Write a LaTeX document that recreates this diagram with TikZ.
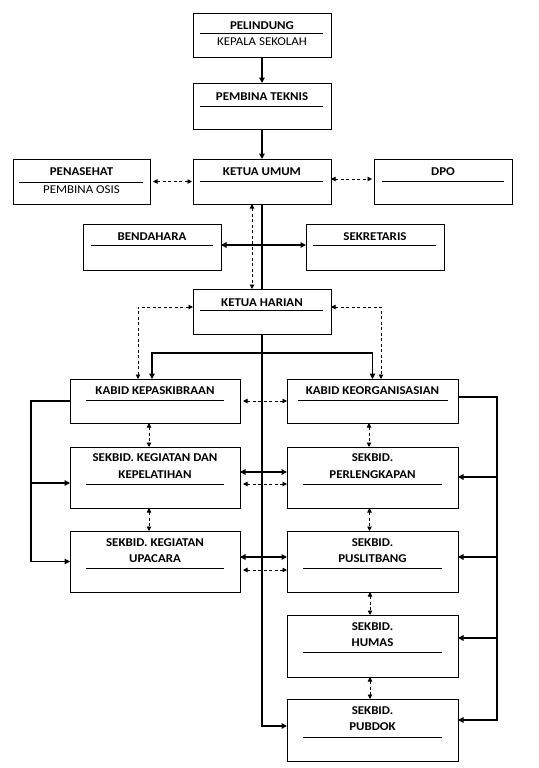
\documentclass[tikz,border=0pt]{standalone}
\usepackage{fontspec}
\setmainfont{Carlito}[FakeStretch=1.08]
\usetikzlibrary{arrows.meta}
\newcommand\mybox[5]{\node[box, minimum width={(#4-#2)*1bp}, minimum height={(#5-#3)*1bp}] (#1) at ({(#2+#4)/2},{(#3+#5)/2}) {};}
\begin{document}
\begin{tikzpicture}[x=1bp,y=-1bp,
 box/.style={draw, line width=0.9bp, inner sep=0pt, outer sep=0pt, fill=white},
 ttl/.style={font=\bfseries\fontsize{12}{14}\selectfont, inner sep=0pt},
 sub/.style={font=\fontsize{12}{14}\selectfont, inner sep=0pt},
 uline/.style={line width=0.8bp},
 sline/.style={line width=1.7bp},
 sarr/.style={line width=1.7bp, -{Triangle[length=5.5bp,width=5.5bp]}},
 sdarr/.style={line width=1.7bp, {Triangle[length=5.5bp,width=5.5bp]}-{Triangle[length=5.5bp,width=5.5bp]}},
 darr/.style={line width=0.9bp, dash pattern=on 3bp off 2.5bp, {Triangle[length=4.5bp,width=4.5bp]}-{Triangle[length=4.5bp,width=4.5bp]}},
]
\useasboundingbox (0,0) rectangle (539,768);
% trunk and lines behind boxes
\draw[sline] (262,204) -- (262,289);
\coordinate (J) at (262,353);
\coordinate (L1) at (31,401);
\coordinate (R1) at (497,397);

% boxes
\mybox{pel}{193}{13}{331}{57}
\mybox{pem}{193}{83}{331}{129}
\mybox{ku}{193}{159}{331}{204}
\mybox{pen}{13}{159}{150}{204}
\mybox{dpo}{374}{159}{512}{204}
\mybox{bd}{83}{224}{221}{270}
\mybox{sk}{306}{224}{444}{270}
\mybox{kh}{193}{289}{331}{334}
\mybox{kp}{70}{379}{240}{423}
\mybox{ko}{287}{379}{458}{423}
\mybox{kg}{70}{447}{240}{508}
\mybox{pl}{287}{447}{458}{508}
\mybox{up}{70}{531}{240}{592}
\mybox{ps}{287}{531}{458}{592}
\mybox{hm}{287}{615}{458}{677}
\mybox{pb}{287}{699}{458}{761}

% texts
\node[ttl] (tpel) at (262,26) {PELINDUNG};
\draw[uline] (200,33) -- (323,33);
\node[sub] (tpel2) at (262,42) {KEPALA SEKOLAH};
\node[ttl] (tpem) at (262,97) {PEMBINA TEKNIS};
\draw[uline] (200,106) -- (323,106);
\node[ttl] (tku) at (262,172) {KETUA UMUM};
\draw[uline] (200,181) -- (323,181);
\node[ttl] (tpen) at (81.5,172) {PENASEHAT};
\draw[uline] (19,182) -- (143,182);
\node[sub] (tpen2) at (81.5,190) {PEMBINA OSIS};
\node[ttl] (tdpo) at (443,172) {DPO};
\draw[uline] (382,181) -- (504,181);
\node[ttl] (tbd) at (152,237) {BENDAHARA};
\draw[uline] (91,245) -- (213,245);
\node[ttl] (tsk) at (375,237) {SEKRETARIS};
\draw[uline] (313,245) -- (436,245);
\node[ttl] (tkh) at (262,303) {KETUA HARIAN};
\draw[uline] (200,310) -- (323,310);
\node[ttl] (tkp) at (155,391) {KABID KEPASKIBRAAN};
\draw[uline] (86,400) -- (224,400);
\node[ttl] (tko) at (372.5,391) {KABID KEORGANISASIAN};
\draw[uline] (298,400) -- (448,400);
\node[ttl] (tkg1) at (155,458) {SEKBID. KEGIATAN DAN};
\node[ttl] (tkg2) at (155,475) {KEPELATIHAN};
\draw[uline] (86,484) -- (224,484);
\node[ttl] (tpl1) at (372.5,458) {SEKBID.};
\node[ttl] (tpl2) at (372.5,475) {PERLENGKAPAN};
\draw[uline] (303,484) -- (442,484);
\node[ttl] (tup1) at (155,543) {SEKBID. KEGIATAN};
\node[ttl] (tup2) at (155,559) {UPACARA};
\draw[uline] (86,568) -- (224,568);
\node[ttl] (tps1) at (372.5,543) {SEKBID.};
\node[ttl] (tps2) at (372.5,559) {PUSLITBANG};
\draw[uline] (303,568) -- (442,568);
\node[ttl] (thm1) at (372.5,627) {SEKBID.};
\node[ttl] (thm2) at (372.5,643) {HUMAS};
\draw[uline] (303,652) -- (442,652);
\node[ttl] (tpb1) at (372.5,711) {SEKBID.};
\node[ttl] (tpb2) at (372.5,727) {PUBDOK};
\draw[uline] (303,737) -- (442,737);

% solid connectors
\draw[sarr] (pel.south) -- (pem.north);
\draw[sarr] (pem.south) -- (ku.north);
\draw[sarr] (kh.south) |- ([yshift=4bp]pb.west);
\draw[sdarr] ([yshift=2bp]bd.east) -- ([yshift=2bp]sk.west);
\draw[sarr] (J) -| ([xshift=-3bp]kp.north);
\draw[sarr] (J) -| (ko.north);
\draw[sdarr] ([yshift=5.5bp]kg.east) -- ([yshift=5.5bp]pl.west);
\draw[sdarr] ([yshift=4.5bp]up.east) -- ([yshift=4.5bp]ps.west);
% left bracket
\draw[sarr] (kp.west) -- (L1) |- (up.west);
\coordinate (kgL) at ([yshift=-5.5bp]kg.west);
\draw[sarr] (L1 |- kgL) -- (kgL);
% right bracket
\draw[sarr] ([yshift=4bp]ko.east) -- (R1) |- ([yshift=10bp]pb.east);
\coordinate (plR) at ([yshift=0.5bp]pl.east);
\draw[sarr] (R1 |- plR) -- (plR);
\coordinate (psR) at ([yshift=4.5bp]ps.east);
\draw[sarr] (R1 |- psR) -- (psR);
\coordinate (hmR) at ([yshift=8bp]hm.east);
\draw[sarr] (R1 |- hmR) -- (hmR);

% dashed connectors
\draw[darr, shorten <=3bp, shorten >=1bp] (pen.east) -- (ku.west);
\draw[darr, shorten >=2bp] ([yshift=2.5bp]ku.east) -- ([yshift=2.5bp]dpo.west);
\draw[darr] ([xshift=-10bp]ku.south) -- ([xshift=-10bp]kh.north);
\draw[darr] ([yshift=4.5bp]kh.west) -| ([xshift=-17bp]kp.north);
\draw[darr] ([yshift=4.5bp]kh.east) -| ([xshift=8.5bp]ko.north);
\draw[darr, shorten <=3bp] (kp.east) -- (ko.west);
\draw[darr, shorten <=3bp] ([yshift=-6.5bp]kg.east) -- ([yshift=-6.5bp]pl.west);
\draw[darr, shorten <=3bp] ([yshift=-8.5bp]up.east) -- ([yshift=-8.5bp]ps.west);
\draw[darr] ([xshift=-6bp]kp.south) -- ([xshift=-6bp]kg.north);
\draw[darr] ([xshift=-6bp]kg.south) -- ([xshift=-6bp]up.north);
\draw[darr] ([xshift=-3.5bp]ko.south) -- ([xshift=-3.5bp]pl.north);
\draw[darr] ([xshift=-3bp]pl.south) -- ([xshift=-3bp]ps.north);
\draw[darr] ([xshift=-2.5bp]ps.south) -- ([xshift=-2.5bp]hm.north);
\draw[darr] ([xshift=-2.5bp]hm.south) -- ([xshift=-2.5bp]pb.north);
\end{tikzpicture}
\end{document}
